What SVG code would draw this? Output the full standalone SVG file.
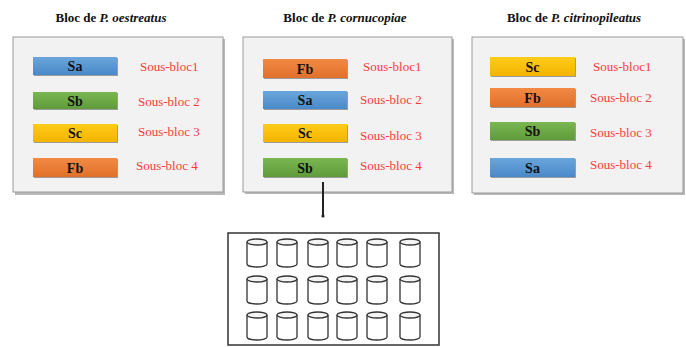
<svg xmlns="http://www.w3.org/2000/svg" width="686" height="347" viewBox="0 0 686 347">
  <defs>
    <linearGradient id="gBlue" x1="0" y1="0" x2="0" y2="1">
      <stop offset="0" stop-color="#6aa6dc"/>
      <stop offset="1" stop-color="#4a89c9"/>
    </linearGradient>
    <linearGradient id="gGreen" x1="0" y1="0" x2="0" y2="1">
      <stop offset="0" stop-color="#7ab751"/>
      <stop offset="1" stop-color="#5f9b3b"/>
    </linearGradient>
    <linearGradient id="gYellow" x1="0" y1="0" x2="0" y2="1">
      <stop offset="0" stop-color="#ffcc1a"/>
      <stop offset="1" stop-color="#f2b400"/>
    </linearGradient>
    <linearGradient id="gOrange" x1="0" y1="0" x2="0" y2="1">
      <stop offset="0" stop-color="#f28a44"/>
      <stop offset="1" stop-color="#e0702a"/>
    </linearGradient>
    <symbol id="cyl" overflow="visible">
      <path d="M0,3 L0,25 A10,3 0 0 0 20,25 L20,3" class="cyl"/>
      <ellipse cx="10" cy="3" rx="10" ry="3" class="cyl-top"/>
    </symbol>
  </defs>
  <style>
    .title { font-family: "Liberation Serif", "Times New Roman", serif; font-size: 13px; font-weight: bold; fill: #111; text-anchor: middle; }
    .title .sp { font-style: italic; }
    .panel-shadow { fill: #b8b8b8; }
    .panel { fill: #f2f2f2; stroke: #9a9a9a; stroke-width: 1; }
    .btn-shadow { fill: #9c9c9c; }
    .btn-text { font-family: "Liberation Serif", "Times New Roman", serif; font-size: 14px; font-weight: bold; fill: #111; text-anchor: middle; }
    .sub { font-family: "Liberation Serif", "Times New Roman", serif; font-size: 13px; fill: #ff3a3a; }
    .link { stroke: #222; stroke-width: 2; fill: none; }
    .tray { fill: #ffffff; stroke: #333; stroke-width: 1.5; }
    .cyl { fill: #ffffff; stroke: #333; stroke-width: 1.3; }
    .cyl-top { fill: #f4f4f4; stroke: #333; stroke-width: 1.3; }
  </style>

  <!-- Block 1 -->
  <g id="block-oestreatus">
    <text class="title" x="111" y="22">Bloc de <tspan class="sp">P. oestreatus</tspan></text>
    <rect class="panel-shadow" x="15" y="39" width="210" height="156"/>
    <rect class="panel" x="13" y="37" width="210" height="155"/>
    <g id="b1-sa">
      <rect class="btn-shadow" x="34" y="58" width="84" height="18"/>
      <rect x="33" y="57" width="84" height="18" fill="url(#gBlue)"/>
      <text class="btn-text" x="75" y="71">Sa</text>
    </g>
    <g id="b1-sb">
      <rect class="btn-shadow" x="34" y="93" width="84" height="17"/>
      <rect x="33" y="92" width="84" height="17" fill="url(#gGreen)"/>
      <text class="btn-text" x="75" y="105.5">Sb</text>
    </g>
    <g id="b1-sc">
      <rect class="btn-shadow" x="34" y="125" width="84" height="18"/>
      <rect x="33" y="124" width="84" height="18" fill="url(#gYellow)"/>
      <text class="btn-text" x="75" y="138">Sc</text>
    </g>
    <g id="b1-fb">
      <rect class="btn-shadow" x="34" y="159" width="84" height="19"/>
      <rect x="33" y="158" width="84" height="19" fill="url(#gOrange)"/>
      <text class="btn-text" x="75" y="172.5">Fb</text>
    </g>
    <text class="sub" x="140" y="71">Sous-bloc1</text>
    <text class="sub" x="138" y="106">Sous-bloc 2</text>
    <text class="sub" x="138" y="136">Sous-bloc 3</text>
    <text class="sub" x="136" y="170">Sous-bloc 4</text>
  </g>

  <!-- Block 2 -->
  <g id="block-cornucopiae">
    <text class="title" x="345" y="22">Bloc de <tspan class="sp">P. cornucopiae</tspan></text>
    <rect class="panel-shadow" x="245" y="39" width="209" height="155"/>
    <rect class="panel" x="243" y="37" width="209" height="155"/>
    <g id="b2-fb">
      <rect class="btn-shadow" x="264" y="60" width="84" height="19"/>
      <rect x="263" y="59" width="84" height="19" fill="url(#gOrange)"/>
      <text class="btn-text" x="305" y="73.5">Fb</text>
    </g>
    <g id="b2-sa">
      <rect class="btn-shadow" x="264" y="92" width="84" height="18"/>
      <rect x="263" y="91" width="84" height="18" fill="url(#gBlue)"/>
      <text class="btn-text" x="305" y="105">Sa</text>
    </g>
    <g id="b2-sc">
      <rect class="btn-shadow" x="264" y="125" width="84" height="18"/>
      <rect x="263" y="124" width="84" height="18" fill="url(#gYellow)"/>
      <text class="btn-text" x="305" y="138">Sc</text>
    </g>
    <g id="b2-sb">
      <rect class="btn-shadow" x="264" y="159" width="84" height="19"/>
      <rect x="263" y="158" width="84" height="19" fill="url(#gGreen)"/>
      <text class="btn-text" x="305" y="172.5">Sb</text>
    </g>
    <text class="sub" x="363" y="71">Sous-bloc1</text>
    <text class="sub" x="360" y="104">Sous-bloc 2</text>
    <text class="sub" x="360" y="140">Sous-bloc 3</text>
    <text class="sub" x="360" y="170">Sous-bloc 4</text>
  </g>

  <!-- Block 3 -->
  <g id="block-citrinopileatus">
    <text class="title" x="574" y="22">Bloc de <tspan class="sp">P. citrinopileatus</tspan></text>
    <rect class="panel-shadow" x="474" y="39" width="211" height="156"/>
    <rect class="panel" x="472" y="37" width="211" height="156"/>
    <g id="b3-sc">
      <rect class="btn-shadow" x="491" y="58" width="85" height="19"/>
      <rect x="490" y="57" width="85" height="19" fill="url(#gYellow)"/>
      <text class="btn-text" x="532.5" y="71.5">Sc</text>
    </g>
    <g id="b3-fb">
      <rect class="btn-shadow" x="491" y="89" width="85" height="19"/>
      <rect x="490" y="88" width="85" height="19" fill="url(#gOrange)"/>
      <text class="btn-text" x="532.5" y="102.5">Fb</text>
    </g>
    <g id="b3-sb">
      <rect class="btn-shadow" x="491" y="123" width="85" height="18"/>
      <rect x="490" y="122" width="85" height="18" fill="url(#gGreen)"/>
      <text class="btn-text" x="532.5" y="136">Sb</text>
    </g>
    <g id="b3-sa">
      <rect class="btn-shadow" x="491" y="159" width="85" height="19"/>
      <rect x="490" y="158" width="85" height="19" fill="url(#gBlue)"/>
      <text class="btn-text" x="532.5" y="172.5">Sa</text>
    </g>
    <text class="sub" x="593" y="71">Sous-bloc1</text>
    <text class="sub" x="590" y="102">Sous-bloc 2</text>
    <text class="sub" x="590" y="137">Sous-bloc 3</text>
    <text class="sub" x="590" y="169">Sous-bloc 4</text>
  </g>

  <!-- Connector from sub-block 4 down to the tray -->
  <g id="connectors">
    <line class="link" x1="323" y1="182" x2="323" y2="216"/>
    <circle cx="323" cy="216" r="1.6" fill="#222"/>
  </g>

  <!-- Tray of bags: 3 rows x 6 columns -->
  <g id="tray">
    <rect class="tray" x="228" y="233" width="211" height="112"/>
    <g id="row1">
      <use href="#cyl" x="247" y="239"/>
      <use href="#cyl" x="277" y="239"/>
      <use href="#cyl" x="308" y="239"/>
      <use href="#cyl" x="337" y="239"/>
      <use href="#cyl" x="367" y="239"/>
      <use href="#cyl" x="400" y="239"/>
    </g>
    <g id="row2">
      <use href="#cyl" x="247" y="276"/>
      <use href="#cyl" x="277" y="276"/>
      <use href="#cyl" x="308" y="276"/>
      <use href="#cyl" x="337" y="276"/>
      <use href="#cyl" x="367" y="276"/>
      <use href="#cyl" x="400" y="276"/>
    </g>
    <g id="row3">
      <use href="#cyl" x="247" y="312"/>
      <use href="#cyl" x="277" y="312"/>
      <use href="#cyl" x="308" y="312"/>
      <use href="#cyl" x="337" y="312"/>
      <use href="#cyl" x="367" y="312"/>
      <use href="#cyl" x="400" y="312"/>
    </g>
  </g>
</svg>
